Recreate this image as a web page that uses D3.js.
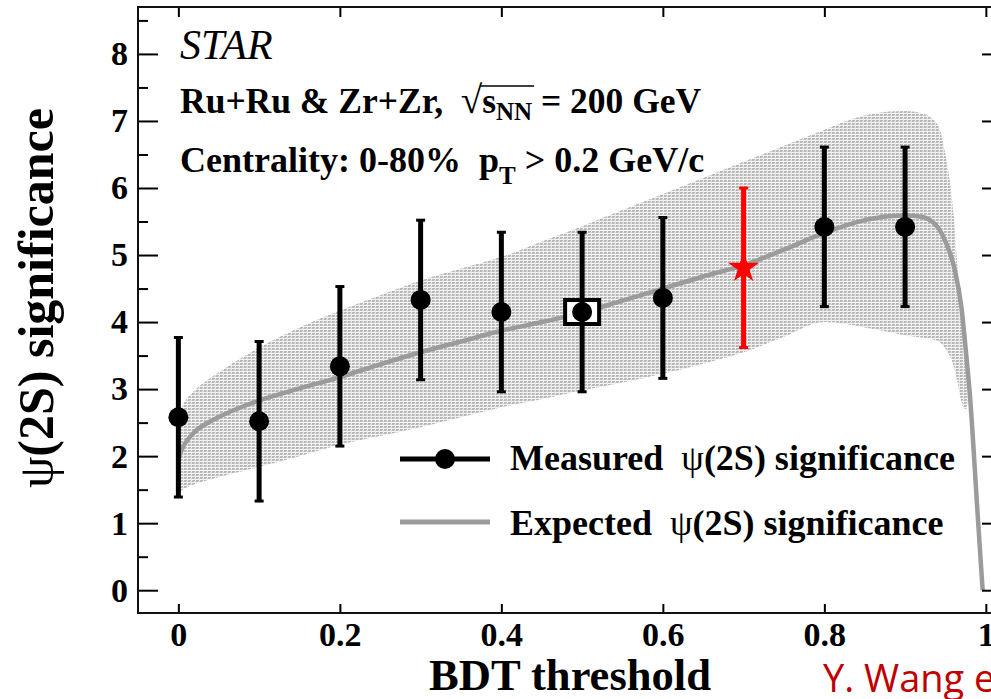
<!DOCTYPE html>
<html><head><meta charset="utf-8">
<script src="https://cdn.jsdelivr.net/npm/d3@7"></script>
<style>html,body{margin:0;padding:0;background:#fff;overflow:hidden}text{white-space:pre}</style>
</head><body><svg id="c" width="991" height="699" xmlns="http://www.w3.org/2000/svg"></svg>
<script>
// ---------------- data ----------------
const bdtCuts = [0, 0.1, 0.2, 0.3, 0.4, 0.5, 0.6, 0.7, 0.8, 0.9];
const measuredSig = [2.58, 2.52, 3.34, 4.33, 4.15, 4.15, 4.36, 4.81, 5.42, 5.42];
const measuredErr = [1.19, 1.19, 1.19, 1.19, 1.19, 1.19, 1.2, 1.19, 1.19, 1.19];
const chosenCut = 0.7;      // red star
const boxedCut = 0.5;       // open square

const expX = [0, 0.005, 0.01, 0.02, 0.04, 0.06, 0.08, 0.1, 0.15, 0.2, 0.25, 0.3, 0.35, 0.4, 0.45, 0.5, 0.55, 0.6, 0.65, 0.7, 0.75, 0.8, 0.85, 0.88, 0.9, 0.92, 0.94, 0.95, 0.96, 0.97, 0.975, 0.98, 0.99, 0.996];
const expSig = [1.95, 2.12, 2.22, 2.36, 2.52, 2.64, 2.74, 2.83, 3.01, 3.18, 3.37, 3.55, 3.71, 3.87, 4.0, 4.14, 4.32, 4.5, 4.68, 4.85, 5.08, 5.33, 5.52, 5.58, 5.59, 5.57, 5.42, 5.2, 4.85, 4.2, 3.6, 2.95, 1.1, 0];

const bandX = [0, 0.005, 0.01, 0.02, 0.04, 0.06, 0.08, 0.1, 0.15, 0.2, 0.25, 0.3, 0.35, 0.4, 0.45, 0.5, 0.55, 0.6, 0.65, 0.7, 0.75, 0.8, 0.85, 0.88, 0.9, 0.92, 0.94, 0.95, 0.96, 0.965, 0.97, 0.975, 0.98];
const bandHigh = [2.55, 2.75, 2.85, 2.98, 3.17, 3.33, 3.48, 3.62, 3.92, 4.17, 4.4, 4.62, 4.8, 4.97, 5.2, 5.43, 5.67, 5.91, 6.15, 6.39, 6.63, 6.87, 7.08, 7.14, 7.15, 7.12, 6.95, 6.5, 5.6, 4.8, 4.2, 3.6, 2.95];
const bandLow = [1.45, 1.5, 1.53, 1.58, 1.65, 1.72, 1.78, 1.84, 2.0, 2.17, 2.3, 2.43, 2.58, 2.73, 2.85, 2.98, 3.1, 3.23, 3.38, 3.55, 3.78, 4.0, 3.92, 3.85, 3.8, 3.77, 3.72, 3.6, 3.35, 3.1, 2.8, 2.7, 2.95];

const xTicks = [0, 0.2, 0.4, 0.6, 0.8, 1];
const yTicks = [0, 1, 2, 3, 4, 5, 6, 7, 8];
const yMinorTicks = [0.5, 1.5, 2.5, 3.5, 4.5, 5.5, 6.5, 7.5, 8.5];

const xTitle = "BDT threshold";
const legendMeasured = "Measured";
const legendExpected = "Expected";
const credit = "Y. Wang et al.";

// ---------------- setup ----------------
const svg = d3.select("#c");
const L = 138, R = 1002, T = 7, B = 613;
const x = d3.scaleLinear().domain([-0.05, 1.02]).range([L, R]);
const y = d3.scaleLinear().domain([-0.34, 8.7]).range([B, T]);
const serif = "'Liberation Serif','DejaVu Serif',serif";

const defs = svg.append("defs");
const pat = defs.append("pattern").attr("id", "hatch").attr("patternUnits", "userSpaceOnUse")
  .attr("width", 4).attr("height", 3);
pat.append("rect").attr("width", 4).attr("height", 3).attr("fill", "#f2f2f2");
pat.append("rect").attr("x", 0).attr("y", 0).attr("width", 3).attr("height", 2).attr("fill", "#b8b8b8");
pat.append("rect").attr("x", 2).attr("y", 1).attr("width", 2).attr("height", 1).attr("fill", "#d8d8d8");
defs.append("clipPath").attr("id", "plotclip").append("rect")
  .attr("x", L).attr("y", T).attr("width", R - L).attr("height", B - T);

const plot = svg.append("g").attr("clip-path", "url(#plotclip)");

// band
const bandData = bandX.map((v, i) => ({x: v, lo: bandLow[i], hi: bandHigh[i]}));
plot.append("path").datum(bandData)
  .attr("d", d3.area().x(d => x(d.x)).y0(d => y(d.lo)).y1(d => y(d.hi)).curve(d3.curveMonotoneX))
  .attr("fill", "url(#hatch)");

// expected curve
const expData = expX.map((v, i) => ({x: v, y: expSig[i]}));
plot.append("path").datum(expData)
  .attr("d", d3.line().x(d => x(d.x)).y(d => y(d.y)).curve(d3.curveMonotoneX))
  .attr("fill", "none").attr("stroke", "#9b9b9b").attr("stroke-width", 4.5);

// measured
const meas = bdtCuts.map((c, i) => ({x: c, y: measuredSig[i], e: measuredErr[i]}));
const boxed = meas.find(d => Math.abs(d.x - boxedCut) < 1e-9);
plot.append("rect")
  .attr("x", x(boxed.x) - 17).attr("y", y(boxed.y) - 12).attr("width", 34).attr("height", 24)
  .attr("fill", "#fff").attr("stroke", "#000").attr("stroke-width", 4);

meas.forEach(d => {
  const col = Math.abs(d.x - chosenCut) < 1e-9 ? "#ff0000" : "#000";
  const cx = x(d.x);
  plot.append("line").attr("x1", cx).attr("x2", cx).attr("y1", y(d.y - d.e)).attr("y2", y(d.y + d.e))
    .attr("stroke", col).attr("stroke-width", 5);
  [d.y - d.e, d.y + d.e].forEach(v => {
    plot.append("line").attr("x1", cx - 4.5).attr("x2", cx + 4.5).attr("y1", y(v)).attr("y2", y(v))
      .attr("stroke", col).attr("stroke-width", 3);
  });
  if (col === "#000") {
    plot.append("circle").attr("cx", cx).attr("cy", y(d.y)).attr("r", 10).attr("fill", "#000");
  } else {
    plot.append("path").attr("d", d3.symbol().type(d3.symbolStar).size(300)())
      .attr("transform", `translate(${cx},${y(d.y)})`).attr("fill", col);
  }
});

// ---------------- axes ----------------
function styleAxis(g) {
  g.select(".domain").remove();
  g.selectAll(".tick line").attr("stroke", "#000").attr("stroke-width", 2);
  g.selectAll("text").attr("font-family", serif).attr("font-weight", "bold")
    .attr("font-size", 34).attr("fill", "#000");
}
const fmt = d => String(+d.toFixed(1));
svg.append("g").attr("transform", `translate(0,${B})`)
  .call(d3.axisBottom(x).tickValues(xTicks).tickSize(-9).tickPadding(9).tickFormat(fmt)).call(styleAxis);
svg.append("g").attr("transform", `translate(0,${T})`)
  .call(d3.axisTop(x).tickValues(xTicks).tickSize(-10).tickFormat("")).call(styleAxis);
svg.append("g").attr("transform", `translate(${L},0)`)
  .call(d3.axisLeft(y).tickValues(yTicks).tickSize(-20).tickPadding(10).tickFormat(d3.format("d"))).call(styleAxis);
svg.append("g").attr("transform", `translate(${L},0)`)
  .call(d3.axisLeft(y).tickValues(yMinorTicks).tickSize(-10).tickFormat("")).call(styleAxis);
svg.append("g").attr("transform", `translate(${R},0)`)
  .call(d3.axisRight(y).tickValues(yTicks).tickSize(-20).tickFormat("")).call(styleAxis);
svg.append("g").attr("transform", `translate(${R},0)`)
  .call(d3.axisRight(y).tickValues(yMinorTicks).tickSize(-10).tickFormat("")).call(styleAxis);

svg.append("rect").attr("x", L).attr("y", T).attr("width", R - L).attr("height", B - T)
  .attr("fill", "none").attr("stroke", "#111").attr("stroke-width", 2);

// ---------------- titles ----------------
svg.append("text").attr("x", (L + R) / 2).attr("y", 689.5).attr("text-anchor", "middle")
  .attr("font-family", serif).attr("font-weight", "bold").attr("font-size", 44)
  .attr("textLength", 282).attr("lengthAdjust", "spacingAndGlyphs").text(xTitle);

const yt = svg.append("text").attr("transform", "translate(53,298) rotate(-90)").attr("text-anchor", "middle")
  .attr("font-family", serif).attr("font-weight", "bold").attr("font-size", 50);
yt.append("tspan").attr("font-weight", "normal").text("ψ");
yt.append("tspan").text("(2S) significance");

// rich text helper: lays pieces left to right
function rich(parent, x0, yb, parts) {
  let cx = x0; const out = [];
  parts.forEach(p => {
    const t = parent.append("text").attr("x", cx).attr("y", yb + (p.dy || 0))
      .attr("font-family", p.family || serif).attr("font-size", p.size || 36)
      .attr("font-weight", p.weight || "bold").attr("font-style", p.style || "normal")
      .attr("fill", p.fill || "#000").text(p.t);
    const w = t.node().getComputedTextLength();
    out.push({x: cx, w});
    cx += w;
  });
  return out;
}

rich(svg, 180, 59, [{t: "STAR", style: "italic", weight: "normal", size: 42}]);
const l2 = rich(svg, 180, 113, [
  {t: "Ru+Ru & Zr+Zr,  ", size: 35.5}, {t: "√", weight: "normal", size: 39}, {t: "s", size: 35.5}, {t: "NN", size: 25, dy: 7}, {t: " = 200 GeV", size: 35.5}
]);
svg.append("line").attr("x1", l2[1].x + l2[1].w - 2).attr("x2", l2[3].x + l2[3].w + 2)
  .attr("y1", 86).attr("y2", 86).attr("stroke", "#000").attr("stroke-width", 1.5);
rich(svg, 180, 172, [
  {t: "Centrality: 0-80%  p"}, {t: "T", size: 25, dy: 12}, {t: " > 0.2 GeV/c"}
]);

// ---------------- legend ----------------
svg.append("line").attr("x1", 400).attr("x2", 490).attr("y1", 459).attr("y2", 459)
  .attr("stroke", "#000").attr("stroke-width", 5);
svg.append("circle").attr("cx", 445).attr("cy", 459).attr("r", 10).attr("fill", "#000");
svg.append("line").attr("x1", 400).attr("x2", 490).attr("y1", 522).attr("y2", 522)
  .attr("stroke", "#9b9b9b").attr("stroke-width", 5);
rich(svg, 510, 470, [{t: legendMeasured + "  "}, {t: "ψ", weight: "normal"}, {t: "(2S) significance"}]);
rich(svg, 510, 535, [{t: legendExpected + "  "}, {t: "ψ", weight: "normal"}, {t: "(2S) significance"}]);

// credit
svg.append("text").attr("x", 823).attr("y", 692).attr("font-family", "'Open Sans','Noto Sans',sans-serif")
  .attr("font-size", 38).attr("fill", "#c00000").text(credit);
</script>
</body></html>
